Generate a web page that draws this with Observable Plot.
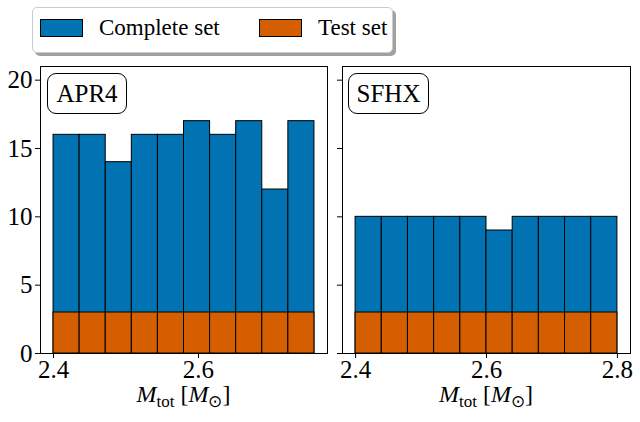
<!DOCTYPE html>
<html><head><meta charset="utf-8">
<script src="https://cdn.jsdelivr.net/npm/d3@7"></script>
<script src="https://cdn.jsdelivr.net/npm/@observablehq/plot@0.6"></script>
<style>
body{margin:0;background:#fff;}
#wrap{position:relative;width:640px;height:422px;font-family:"Liberation Serif",serif;color:#000;overflow:hidden;}
#wrap svg, #wrap svg text{font-family:"Liberation Serif",serif !important;font-size:25px !important;}
.abs{position:absolute;}
.panelLabel{position:absolute;box-sizing:border-box;border:1px solid #000;border-radius:9px;font-size:25px;text-align:center;background:#fff;}
.xlabel{position:absolute;transform:translateX(-50%);font-size:24px;white-space:nowrap;line-height:26px;}
.xlabel sub{font-size:17px;font-style:normal;vertical-align:-5px;line-height:0;}
#legend{position:absolute;left:32px;top:7px;width:361px;height:46px;box-sizing:border-box;border:1px solid #ccc;border-radius:5px;background:#fff;box-shadow:3px 3px 0 #a0a0a0;}
.patch{position:absolute;box-sizing:border-box;border:1px solid #000;width:43px;height:18px;top:11px;}
.ltext{position:absolute;top:3px;font-size:23px;line-height:34px;white-space:nowrap;}
</style></head><body><div id="wrap"></div>
<script>
// ---- data ----
const panelNames = ["APR4", "SFHX"];
const seriesNames = ["Complete set", "Test set"];
const seriesColors = ["#0173B2", "#D55E00"];

const apr4Edges = [2.4, 2.436, 2.472, 2.508, 2.544, 2.58, 2.616, 2.652, 2.688, 2.724, 2.76];
const apr4Complete = [16, 16, 14, 16, 16, 17, 16, 17, 12, 17];
const apr4Test = [3, 3, 3, 3, 3, 3, 3, 3, 3, 3];

const sfhxEdges = [2.4, 2.44, 2.48, 2.52, 2.56, 2.6, 2.64, 2.68, 2.72, 2.76, 2.8];
const sfhxComplete = [10, 10, 10, 10, 10, 9, 10, 10, 10, 10];
const sfhxTest = [3, 3, 3, 3, 3, 3, 3, 3, 3, 3];

const yTicks = [0, 5, 10, 15, 20];
const apr4XTicks = [2.4, 2.6];
const sfhxXTicks = [2.4, 2.6, 2.8];

// ---- build ----
const wrap = document.getElementById("wrap");
const FONT = "Liberation Serif, serif";

function rows(edges, counts) {
  return counts.map((c, i) => ({x1: edges[i], x2: edges[i + 1], y: c}));
}

function panel(cfg) {
  const marks = [
    Plot.rectY(rows(cfg.edges, cfg.complete), {x1: "x1", x2: "x2", y: "y", fill: seriesColors[0], stroke: "#000", strokeWidth: 1}),
    Plot.rectY(rows(cfg.edges, cfg.test), {x1: "x1", x2: "x2", y: "y", fill: seriesColors[1], stroke: "#000", strokeWidth: 1}),
    Plot.axisX({ticks: cfg.xTicks, tickSize: 5, tickPadding: 2, tickFormat: d => d.toFixed(1), label: null}),
    cfg.showY
      ? Plot.axisY({ticks: yTicks, tickSize: 5, tickPadding: 3, label: null})
      : Plot.axisY({ticks: yTicks, tickSize: 5, tickPadding: 3, text: null, label: null}),
    Plot.frame({stroke: "#000", strokeWidth: 1})
  ];
  const svg = Plot.plot({
    width: cfg.width,
    height: 362,
    marginLeft: cfg.ml,
    marginRight: cfg.mr,
    marginTop: 6,
    marginBottom: 69,
    x: {domain: cfg.domain, label: null},
    y: {domain: [0, 21], label: null},
    style: {fontSize: "25px", fontFamily: FONT},
    marks
  });
  const d = document.createElement("div");
  d.className = "abs";
  d.style.left = cfg.left + "px";
  d.style.top = "60px";
  d.appendChild(svg);
  wrap.appendChild(d);
}

panel({edges: apr4Edges, complete: apr4Complete, test: apr4Test, xTicks: apr4XTicks, showY: true,
  width: 330, ml: 40, mr: 3, left: 0, domain: [2.382, 2.778]});
panel({edges: sfhxEdges, complete: sfhxComplete, test: sfhxTest, xTicks: sfhxXTicks, showY: false,
  width: 310, ml: 12, mr: 10, left: 330, domain: [2.38, 2.82]});

// panel labels
[[panelNames[0], 47, 73, 80, 41], [panelNames[1], 348, 73, 81, 41]].forEach(([t, l, tp, w, h]) => {
  const b = document.createElement("div");
  b.className = "panelLabel";
  b.style.left = l + "px"; b.style.top = tp + "px";
  b.style.width = w + "px"; b.style.height = h + "px";
  b.style.lineHeight = (h - 2) + "px";
  b.textContent = t;
  wrap.appendChild(b);
});

// x labels
[183.5, 486].forEach(cx => {
  const x = document.createElement("div");
  x.className = "xlabel";
  x.style.left = cx + "px";
  x.style.top = "381px";
  x.innerHTML = "<i>M</i><sub>tot</sub> [<i>M</i><sub>\u2299</sub>]";
  wrap.appendChild(x);
});

// legend
const lg = document.createElement("div");
lg.id = "legend";
const items = [[seriesNames[0], seriesColors[0], 7, 66], [seriesNames[1], seriesColors[1], 226, 285]];
items.forEach(([name, col, px, tx]) => {
  const p = document.createElement("div");
  p.className = "patch"; p.style.left = px + "px"; p.style.background = col;
  lg.appendChild(p);
  const t = document.createElement("div");
  t.className = "ltext"; t.style.left = tx + "px"; t.textContent = name;
  lg.appendChild(t);
});
wrap.appendChild(lg);
</script>
</body></html>
